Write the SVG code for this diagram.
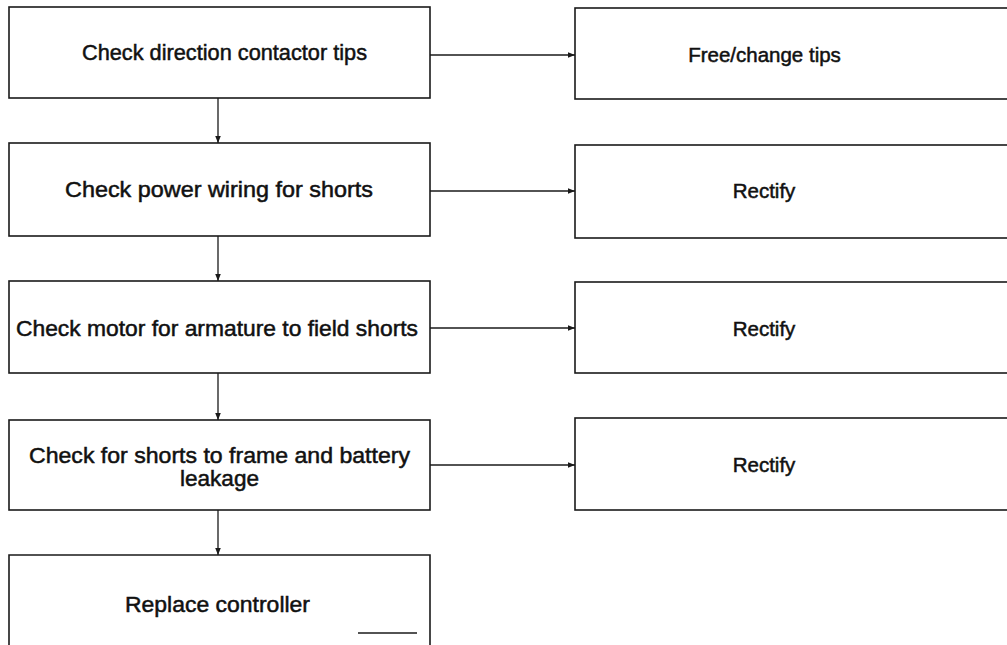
<svg xmlns="http://www.w3.org/2000/svg" width="1007" height="645" viewBox="0 0 1007 645">
  <defs>
    <style>
      .box { fill: #ffffff; stroke: #1a1a1a; stroke-width: 1.6; }
      .edge { fill: none; stroke: #1a1a1a; stroke-width: 1.3; }
      .lbl { font-family: "Liberation Sans", Arial, Helvetica, sans-serif; font-size: 22px; fill: #111111; stroke: #111111; stroke-width: 0.5; }
      .rlbl { font-family: "Liberation Sans", Arial, Helvetica, sans-serif; font-size: 20.5px; fill: #111111; stroke: #111111; stroke-width: 0.5; text-anchor: middle; }
    </style>
    <marker id="arr" viewBox="0 0 10 10" refX="10" refY="5" markerWidth="7" markerHeight="7" markerUnits="userSpaceOnUse" orient="auto">
      <path d="M0,1 L10,5 L0,9 Z" fill="#1a1a1a"/>
    </marker>
  </defs>
  <rect width="1007" height="645" fill="#ffffff"/>

  <g id="connectors">
    <line class="edge" x1="218" y1="98" x2="218" y2="143" marker-end="url(#arr)"/>
    <line class="edge" x1="218" y1="236" x2="218" y2="281" marker-end="url(#arr)"/>
    <line class="edge" x1="218" y1="373" x2="218" y2="420" marker-end="url(#arr)"/>
    <line class="edge" x1="218" y1="510" x2="218" y2="555" marker-end="url(#arr)"/>
    <line class="edge" x1="430" y1="55" x2="575" y2="55" marker-end="url(#arr)"/>
    <line class="edge" x1="430" y1="191" x2="575" y2="191" marker-end="url(#arr)"/>
    <line class="edge" x1="430" y1="328" x2="575" y2="328" marker-end="url(#arr)"/>
    <line class="edge" x1="430" y1="465" x2="575" y2="465" marker-end="url(#arr)"/>
  </g>

  <g id="n1">
    <rect class="box" x="9" y="7" width="421" height="91"/>
    <text class="lbl" x="82" y="60" textLength="285" lengthAdjust="spacingAndGlyphs">Check direction contactor tips</text>
  </g>
  <g id="n2">
    <rect class="box" x="9" y="143" width="421" height="93"/>
    <text class="lbl" x="65" y="197" textLength="308" lengthAdjust="spacingAndGlyphs">Check power wiring for shorts</text>
  </g>
  <g id="n3">
    <rect class="box" x="9" y="281" width="421" height="92"/>
    <text class="lbl" x="16" y="336" textLength="402" lengthAdjust="spacingAndGlyphs">Check motor for armature to field shorts</text>
  </g>
  <g id="n4">
    <rect class="box" x="9" y="420" width="421" height="90"/>
    <text class="lbl" x="29" y="463" textLength="381" lengthAdjust="spacingAndGlyphs">Check for shorts to frame and battery</text>
    <text class="lbl" x="180" y="486" textLength="79" lengthAdjust="spacingAndGlyphs">leakage</text>
  </g>
  <g id="n5">
    <path class="box" d="M9,647 V555 H430 V647"/>
    <line class="edge" x1="358" y1="633" x2="417" y2="633" stroke-width="1.2"/>
    <text class="lbl" x="125" y="612" textLength="185" lengthAdjust="spacingAndGlyphs">Replace controller</text>
  </g>

  <g id="r1">
    <rect class="box" x="575" y="8" width="440" height="91"/>
    <text class="rlbl" x="764.5" y="62">Free/change tips</text>
  </g>
  <g id="r2">
    <rect class="box" x="575" y="145" width="440" height="93"/>
    <text class="rlbl" x="764" y="198">Rectify</text>
  </g>
  <g id="r3">
    <rect class="box" x="575" y="282" width="440" height="91"/>
    <text class="rlbl" x="764" y="336">Rectify</text>
  </g>
  <g id="r4">
    <rect class="box" x="575" y="418" width="440" height="92"/>
    <text class="rlbl" x="764" y="472">Rectify</text>
  </g>
</svg>
